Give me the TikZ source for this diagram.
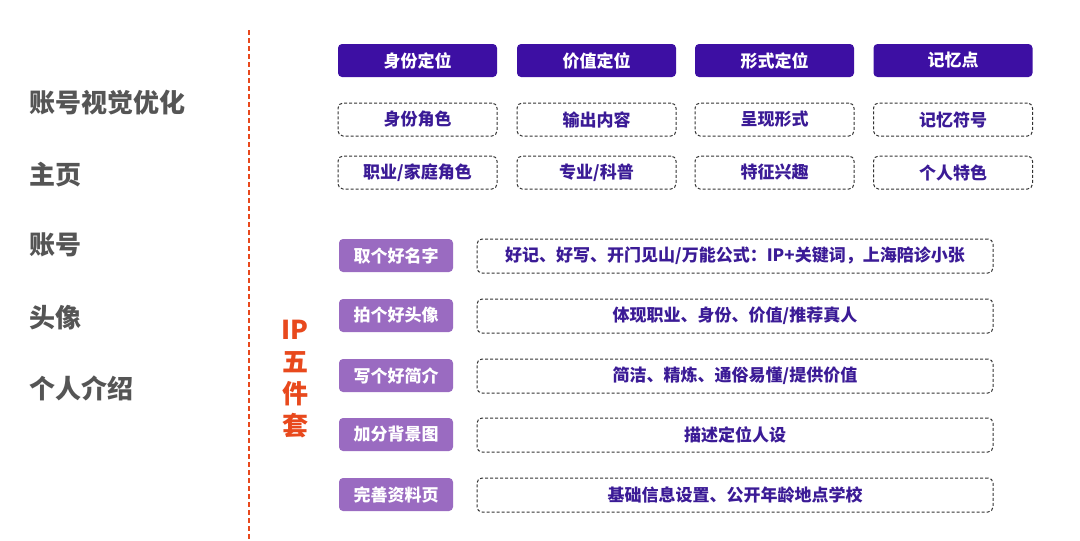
\documentclass[tikz,border=0pt]{standalone}
\usepackage{fontspec}
\setmainfont{Noto Sans CJK SC}
\definecolor{hdrc}{HTML}{3D0FA3}
\definecolor{pc}{HTML}{9A6BC1}
\definecolor{txtc}{HTML}{3B1B96}
\definecolor{dashc}{HTML}{333333}
\definecolor{grayc}{HTML}{555555}
\definecolor{redc}{HTML}{E8491D}
\begin{document}
\begin{tikzpicture}[x=1pt,y=-1pt,
  hdr/.style={fill=hdrc, rounded corners=4pt, minimum width=159pt, minimum height=33pt, text=white, font=\fontsize{17}{20}\selectfont\bfseries, inner sep=0pt},
  dbox/.style={draw=dashc, dash pattern=on 3pt off 2pt, rounded corners=5pt, minimum width=159pt, minimum height=33pt, text=txtc, font=\fontsize{17}{20}\selectfont\bfseries, line width=1pt, inner sep=0pt},
  pbox/.style={fill=pc, rounded corners=4pt, minimum width=114pt, minimum height=33pt, text=white, font=\fontsize{17}{20}\selectfont\bfseries, inner sep=0pt},
  wbox/.style={dbox, minimum width=516pt, minimum height=34pt},
  lbl/.style={anchor=west, text=grayc, font=\fontsize{26}{30}\selectfont\bfseries, inner sep=0pt},
]
\useasboundingbox (0,0) rectangle (1080,541);
% left labels
\node[lbl] (l1) at (29,103) {账号视觉优化};
\node[lbl] (l2) at (29,175) {主页};
\node[lbl] (l3) at (29,245) {账号};
\node[lbl] (l4) at (29,318) {头像};
\node[lbl] (l5) at (29,388) {个人介绍};
% divider
\coordinate (dtop) at (249,30);
\coordinate (dbot) at (249,541);
\draw[draw=redc, dash pattern=on 5pt off 3pt, line width=1.3pt] (dtop) -- (dbot);
% IP five
\node[text=redc, font=\fontsize{26}{32}\selectfont\bfseries, align=center, inner sep=0pt] (ip) at (295,379.5) {IP\\五\\件\\套};
% headers
\node[hdr] (h1) at (417.5,60.5) {身份定位};
\node[hdr] (h2) at (596.5,60.5) {价值定位};
\node[hdr] (h3) at (774.5,60.5) {形式定位};
\node[hdr] (h4) at (953,60.5) {记忆点};
\node[dbox] (a1) at (417.5,119.5) {身份角色};
\node[dbox] (a2) at (596.5,119.5) {输出内容};
\node[dbox] (a3) at (774.5,119.5) {呈现形式};
\node[dbox] (a4) at (953,119.5) {记忆符号};
\node[dbox] (b1) at (417.5,172.5) {职业/家庭角色};
\node[dbox] (b2) at (596.5,172.5) {专业/科普};
\node[dbox] (b3) at (774.5,172.5) {特征兴趣};
\node[dbox] (b4) at (953,172.5) {个人特色};
% five items
\node[pbox] (p1) at (396,255.5) {取个好名字};
\node[pbox] (p2) at (396,315.5) {拍个好头像};
\node[pbox] (p3) at (396,375.5) {写个好简介};
\node[pbox] (p4) at (396,434.5) {加分背景图};
\node[pbox] (p5) at (396,494.5) {完善资料页};
\node[wbox] (w1) at (735,256) {好记、好写、开门见山/万能公式：IP+关键词，上海陪诊小张};
\node[wbox] (w2) at (735,316) {体现职业、身份、价值/推荐真人};
\node[wbox] (w3) at (735,376) {简洁、精炼、通俗易懂/提供价值};
\node[wbox] (w4) at (735,435) {描述定位人设};
\node[wbox] (w5) at (735,495) {基础信息设置、公开年龄地点学校};
\end{tikzpicture}
\end{document}
